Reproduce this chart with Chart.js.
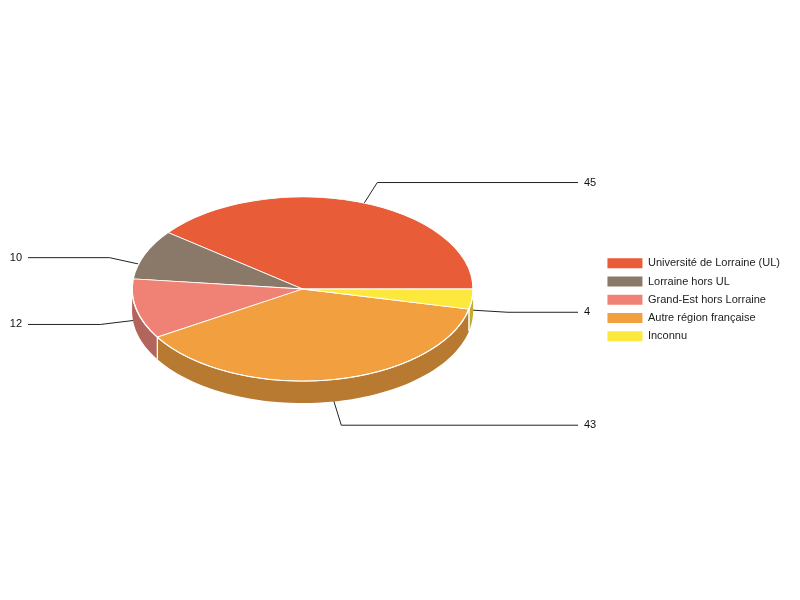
<!DOCTYPE html>
<html>
<head>
<meta charset="utf-8">
<script src="https://cdn.jsdelivr.net/npm/chart.js@4/dist/chart.umd.min.js"></script>
<style>
  html, body { margin: 0; padding: 0; background: #fff; }
  canvas { display: block; }
</style>
</head>
<body>
<canvas id="pieChart" width="800" height="600"></canvas>
<script>
const categories = ['Université de Lorraine (UL)', 'Lorraine hors UL', 'Grand-Est hors Lorraine', 'Autre région française', 'Inconnu'];
const counts = [45, 10, 12, 43, 4];
const topColors = ['#e85c37', '#8a7868', '#ef8275', '#f2a03f', '#fde83e'];
const sideColors = ['#b04a2c', '#695b4f', '#b3645c', '#b87a30', '#bfae2f'];

const TILT = 0.54;   // vertical squash of the pie
const DEPTH = 22;    // thickness of the pie in px

function rimPoint(arc, a, dy) {
  const r = arc.outerRadius;
  return [arc.x + r * Math.cos(a), arc.y - TILT * r * Math.sin(a) + dy];
}

const pie3d = {
  id: 'pie3d',
  beforeDatasetsDraw(chart) {
    const ctx = chart.ctx;
    const arcs = chart.getDatasetMeta(0).data;

    // value labels with leader lines, behind the pie
    ctx.save();
    ctx.strokeStyle = '#222';
    ctx.lineWidth = 1;
    ctx.fillStyle = '#111';
    ctx.font = '11px Arial, "Liberation Sans", sans-serif';
    ctx.textBaseline = 'middle';
    arcs.forEach((arc, i) => {
      const mid = (arc.startAngle + arc.endAngle) / 2;
      const top = rimPoint(arc, mid, 0);
      const start = rimPoint(arc, mid, DEPTH / 2);
      let dx = top[0] - arc.x, dy = top[1] - arc.y;
      const len = Math.hypot(dx, dy);
      dx = dx / len * 36; dy = dy / len * 36;
      const elbow = [start[0] + dx, start[1] + dy];
      const right = Math.cos(mid) >= 0;
      const endX = right ? 578 : 28;
      ctx.beginPath();
      ctx.moveTo(start[0], start[1]);
      ctx.lineTo(elbow[0], elbow[1]);
      ctx.lineTo(endX, elbow[1]);
      ctx.stroke();
      ctx.textAlign = right ? 'left' : 'right';
      ctx.fillText(String(counts[i]), right ? 584 : 22, elbow[1]);
    });
    ctx.restore();

    // side walls of the front half
    ctx.save();
    arcs.forEach((arc, i) => {
      const a0 = Math.max(arc.startAngle, Math.PI);
      const a1 = Math.min(arc.endAngle, 2 * Math.PI);
      if (a1 <= a0) return;
      ctx.beginPath();
      for (let k = 0; k <= 60; k++) {
        const p = rimPoint(arc, a0 + (a1 - a0) * k / 60, 0);
        if (k === 0) ctx.moveTo(p[0], p[1]); else ctx.lineTo(p[0], p[1]);
      }
      for (let k = 60; k >= 0; k--) {
        const p = rimPoint(arc, a0 + (a1 - a0) * k / 60, DEPTH);
        ctx.lineTo(p[0], p[1]);
      }
      ctx.closePath();
      ctx.fillStyle = sideColors[i];
      ctx.fill();
    });
    ctx.restore();

    // squash the top face
    const cx = arcs[0].x, cy = arcs[0].y;
    ctx.save();
    ctx.translate(cx, cy);
    ctx.scale(1, -TILT);
    ctx.translate(-cx, -cy);
  },
  afterDatasetsDraw(chart) {
    const ctx = chart.ctx;
    ctx.restore();
    const arcs = chart.getDatasetMeta(0).data;
    ctx.save();
    ctx.strokeStyle = '#fff';
    ctx.lineWidth = 1;
    // front rim edge
    ctx.beginPath();
    for (let k = 0; k <= 120; k++) {
      const p = rimPoint(arcs[0], Math.PI + Math.PI * k / 120, 0);
      if (k === 0) ctx.moveTo(p[0], p[1]); else ctx.lineTo(p[0], p[1]);
    }
    ctx.stroke();
    // slice edges on the side wall
    arcs.forEach((arc) => {
      [arc.startAngle, arc.endAngle].forEach((a) => {
        if (a > Math.PI + 0.02 && a < 2 * Math.PI - 0.02) {
          const p = rimPoint(arc, a, 0);
          ctx.beginPath();
          ctx.moveTo(p[0], p[1]);
          ctx.lineTo(p[0], p[1] + DEPTH);
          ctx.stroke();
        }
      });
    });
    ctx.restore();
  }
};

const defaultLabels = Chart.overrides.pie.plugins.legend.labels.generateLabels;

new Chart(document.getElementById('pieChart'), {
  type: 'pie',
  data: {
    labels: categories,
    datasets: [{
      data: counts,
      backgroundColor: topColors,
      borderColor: '#ffffff',
      borderWidth: 1.5,
      clip: false
    }]
  },
  options: {
    responsive: false,
    animation: false,
    rotation: 90,
    radius: 170.5,
    layout: { padding: { left: 5, right: 10, top: 0, bottom: 22 } },
    plugins: {
      tooltip: { enabled: false },
      legend: {
        position: 'right',
        title: { display: true, text: '', padding: { top: 8.5, bottom: 0 }, font: { size: 11 } },
        labels: {
          boxWidth: 35,
          boxHeight: 10,
          padding: 7.25,
          color: '#222',
          font: { family: 'Arial, "Liberation Sans", sans-serif', size: 11 },
          generateLabels(chart) {
            return defaultLabels(chart).map((l) => Object.assign(l, { lineWidth: 0, strokeStyle: 'rgba(0,0,0,0)' }));
          }
        }
      }
    }
  },
  plugins: [pie3d]
});
</script>
</body>
</html>
